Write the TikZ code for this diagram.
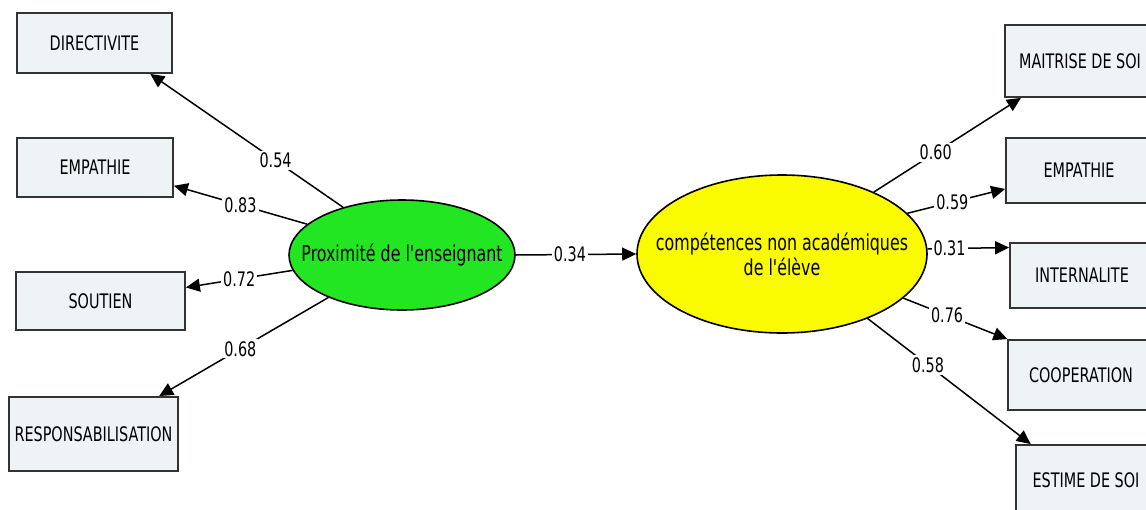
\documentclass[tikz,border=0pt]{standalone}
\usepackage{fontspec}
\setmainfont{DejaVu Sans}[FakeStretch=0.72, Ligatures=TeXOff]
\usetikzlibrary{shapes.geometric, arrows.meta}

\definecolor{boxFill}{RGB}{238,243,246}
\definecolor{latGreen}{RGB}{34,230,34}
\definecolor{latYellow}{RGB}{250,250,0}

\tikzset{
	indic/.style = {draw=black!80, line width=0.9pt, fill=boxFill, inner sep=0pt, font=\fontsize{10}{12}\selectfont},
	latent/.style = {ellipse, draw=black, line width=0.8pt, inner sep=0pt},
	coef/.style = {fill=white, inner sep=1pt, font=\fontsize{10}{12}\selectfont},
	path/.style = {line width=0.75pt, -{Triangle[length=7pt, width=6.5pt]}}
}

\begin{document}
\begin{tikzpicture}[x=0.5pt, y=-0.5pt]
	\useasboundingbox (0,0) rectangle (1146,509);
	\clip (0,0) rectangle (1146,509);

	% latent variables
	\node [latent, fill=latGreen, minimum width=113pt, minimum height=55pt,
		label={[font=\fontsize{11}{13}\selectfont]center:Proximité de l'enseignant}] (prox) at (402,255) {};
	\node [latent, fill=latYellow, minimum width=145pt, minimum height=79pt,
		label={[align=center, font=\fontsize{11}{12.5}\selectfont]center:compétences non académiques\\de l'élève}] (comp) at (782,254) {};

	% indicators, left
	\node [indic, minimum width=77.5pt, minimum height=30pt] (dirBox) at (94.5,43) {DIRECTIVITE};
	\node [indic, minimum width=78pt, minimum height=29.5pt] (empL) at (95,167.5) {EMPATHIE};
	\node [indic, minimum width=84.5pt, minimum height=29pt] (souBox) at (100.5,301) {SOUTIEN};
	\node [indic, minimum width=84.5pt, minimum height=37pt] (respBox) at (93.5,434) {RESPONSABILISATION};

	% indicators, right
	\node [indic, minimum width=75pt, minimum height=36pt] (maiBox) at (1080,61) {MAITRISE DE SOI};
	\node [indic, minimum width=73pt, minimum height=32.5pt] (empR) at (1079,170.5) {EMPATHIE};
	\node [indic, minimum width=72pt, minimum height=32.5pt] (intBox) at (1082,275.5) {INTERNALITE};
	\node [indic, minimum width=73pt, minimum height=35pt] (coopBox) at (1081,375) {COOPERATION};
	\node [indic, minimum width=70pt, minimum height=35pt] (estBox) at (1086,480) {ESTIME DE SOI};

	\begin{scope}
		\draw [path] (prox.141) -- node [coef, pos=0.35] {0.54} (dirBox.-29);
		\draw [path] (prox.162) -- node [coef, pos=0.5] {0.83} (empL.-13);
		\draw [path] (prox.-172) -- node [coef, pos=0.5] {0.72} (souBox.9);
		\draw [path] (prox.-150) -- node [coef, pos=0.52] {0.68} (respBox.30);
	\end{scope}

	\draw [path] (prox.east) -- node [coef, pos=0.45] {0.34} (comp.west);

	\begin{scope}
		\draw [path] (comp.34) -- node [coef, pos=0.42] {0.60} (maiBox.-148);
		\draw [path] (comp.18) -- node [coef, pos=0.46] {0.59} (empR.-166);
		\draw [path] (comp.2) -- node [coef, pos=0.27] {0.31} (intBox.159);
		\draw [path] (comp.-20) -- node [coef, pos=0.42] {0.76} (coopBox.154);
		\draw [path] (comp.-37) -- node [coef, pos=0.37] {0.58} (estBox.147);
	\end{scope}
\end{tikzpicture}
\end{document}
